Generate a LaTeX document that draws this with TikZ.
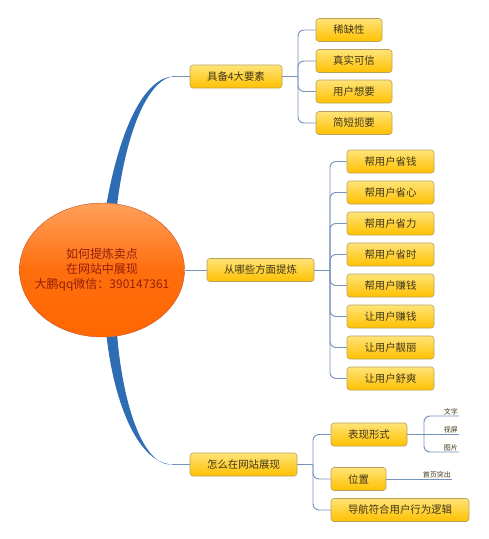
\documentclass[tikz,border=0pt]{standalone}
\usepackage{fontspec}
\newfontfamily\cjk{Noto Sans CJK SC}
\usetikzlibrary{shapes.geometric,backgrounds}
\definecolor{boxtop}{RGB}{255,228,120}
\definecolor{boxbot}{RGB}{255,192,0}
\definecolor{boxline}{RGB}{185,160,90}
\definecolor{boxtext}{RGB}{65,55,25}
\definecolor{eggtop}{RGB}{255,160,90}
\definecolor{eggbot}{RGB}{255,102,0}
\definecolor{eggline}{RGB}{200,80,40}
\definecolor{eggtext}{RGB}{150,30,10}
\definecolor{trunk}{RGB}{46,108,180}
\definecolor{twig}{RGB}{115,145,185}

\begin{document}
\begin{tikzpicture}[x=1pt,y=-1pt,
    every node/.style={font=\cjk\fontsize{10.4}{12}\selectfont},
    hub/.style={ellipse, draw=eggline, top color=eggtop, bottom color=eggbot,
        middle color=eggbot!85!eggtop, minimum width=165, minimum height=134, inner sep=0pt},
    hubtext/.style={text=eggtext, align=center, font=\cjk\fontsize{12}{15}\selectfont},
    topic/.style={draw=boxline, line width=0.6pt, rounded corners=3pt, top color=boxtop,
        bottom color=boxbot, text=boxtext, minimum height=23, inner sep=2pt},
    leaf/.style={text=boxtext, inner sep=1pt, font=\cjk\fontsize{7}{8}\selectfont},
    link/.style={draw=twig, line width=0.9pt, rounded corners=6pt}]
    \useasboundingbox (0,0) rectangle (489,539);

    % centre
    \node[hub] (cen) at (102,270) {};
    \node[hubtext] (cenlabel) at (cen) {如何提炼卖点\\在网站中展现\\大鹏qq微信：390147361};

    % main topics
    \node[topic, minimum width=92] (t1) at (236,76.5) {具备4大要素};
    \node[topic, minimum width=107] (t2) at (260.5,270) {从哪些方面提炼};
    \node[topic, minimum width=107] (t3) at (243.5,464.5) {怎么在网站展现};

    % thick branches
    \coordinate (k1) at (172,76.5);
    \coordinate (k3) at (172,464.5);
    \begin{scope}[on background layer]
        \fill[trunk] (cen.86) .. controls (118,140) and (140,80) .. (k1)
            .. controls (145,82) and (125,140) .. (cen.77) -- cycle;
        \fill[trunk] (cen.-86) .. controls (113,395) and (135,462) .. (k3)
            .. controls (140,466) and (122,395) .. (cen.-77) -- cycle;
    \end{scope}
    \draw[link] (k1) -- (t1.west);
    \draw[link] (k3) -- (t3.west);
    \draw[link] (cen.east) -- (t2.west);

    % four elements
    \node[topic, minimum width=66] (a1) at (349,30) {稀缺性};
    \node[topic, minimum width=76] (a2) at (354,61) {真实可信};
    \node[topic, minimum width=76] (a3) at (354,91.5) {用户想要};
    \node[topic, minimum width=76] (a4) at (354,123) {简短扼要};
    \coordinate (j1) at (298,76.5);
    \draw[link] (t1.east) -- (j1);
    \foreach \i in {1,...,4}
        \draw[link] (j1) |- (a\i.west);

    % aspects
    \foreach \txt [count=\i] in {帮用户省钱,帮用户省心,帮用户省力,帮用户省时,帮用户赚钱,让用户赚钱,让用户靓丽,让用户舒爽}
        \node[topic, minimum width=87] (m\i) at (390.5,130.5+31*\i) {\txt};
    \coordinate (j2) at (330,270);
    \draw[link] (t2.east) -- (j2);
    \foreach \i in {1,...,8}
        \draw[link] (j2) |- (m\i.west);

    % on the site
    \node[topic, minimum width=76] (b1) at (369,434.5) {表现形式};
    \node[topic, minimum width=55] (b2) at (358.5,479) {位置};
    \node[topic, minimum width=138] (b3) at (400,510) {导航符合用户行为逻辑};
    \coordinate (j3) at (313,464.5);
    \draw[link] (t3.east) -- (j3);
    \foreach \i in {1,...,3}
        \draw[link] (j3) |- (b\i.west);

    % leaves
    \node[leaf, anchor=south east] (w1) at (459,416) {文字};
    \node[leaf, anchor=south east] (w2) at (459,434.5) {视屏};
    \node[leaf, anchor=south east] (w3) at (459,452) {图片};
    \coordinate (j4) at (424,434.5);
    \draw[link] (b1.east) -- (j4);
    \draw[link] (j4) |- (w1.south west) -- (w1.south east);
    \draw[link] (j4) -- (w2.south east);
    \draw[link] (j4) |- (w3.south west) -- (w3.south east);
    \node[leaf, anchor=south east] (hp) at (452,479) {首页突出};
    \draw[link] (b2.east) -- (hp.south east);
\end{tikzpicture}
\end{document}
